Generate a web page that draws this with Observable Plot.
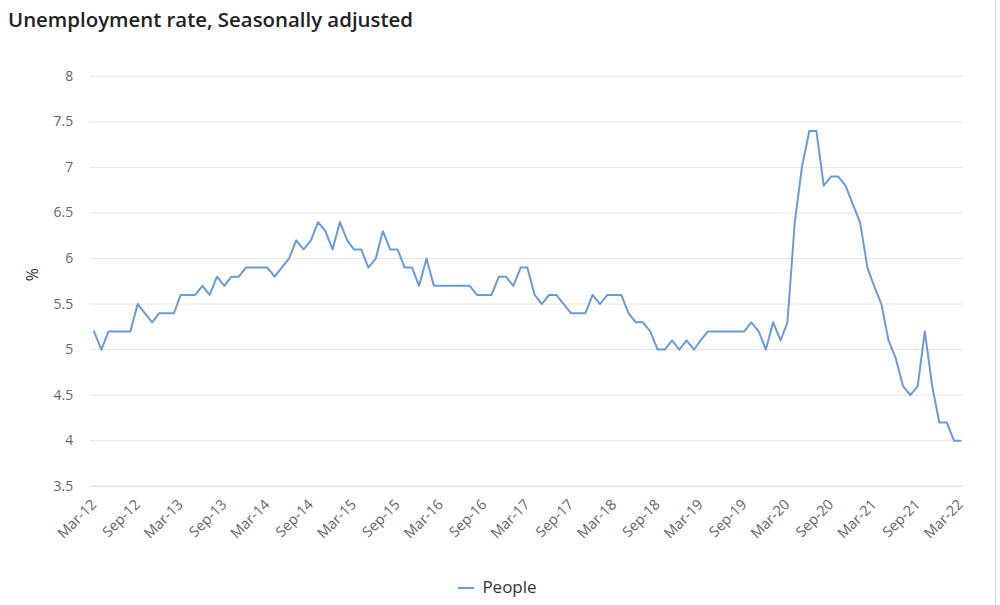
<!DOCTYPE html>
<html>
<head>
<meta charset="utf-8">
<script src="https://cdn.jsdelivr.net/npm/d3@7"></script>
<script src="https://cdn.jsdelivr.net/npm/@observablehq/plot@0.6"></script>
<style>
  html, body { margin: 0; padding: 0; background: #fff; }
  #wrap { position: relative; width: 995px; height: 605px; border-right: 1px solid #d8d8d8; font-family: "Open Sans", sans-serif; }
  #title { position: absolute; left: 8px; top: 5px; font-size: 20.4px; font-weight: 600; color: #222; white-space: nowrap; }
  #chart { position: absolute; left: 0; top: 40px; }
  #legend { position: absolute; left: 0; width: 995px; top: 575px; text-align: center; font-size: 17px; color: #333; }
  #legend svg { vertical-align: middle; margin-right: 8px; }
  #chart svg text { font-family: "Open Sans", sans-serif; }
  #chart svg g[aria-label="x-axis tick label"] { font-size: 14.5px; }
  #chart svg g[aria-label="y-axis tick label"] { font-size: 14px; }
</style>
</head>
<body>
<div id="wrap">
  <div id="title">Unemployment rate, Seasonally adjusted</div>
  <div id="chart"></div>
  <div id="legend"><svg width="16" height="10"><line x1="0" x2="16" y1="5" y2="5" stroke="#6b9bd2" stroke-width="2"/></svg><span>People</span></div>
</div>
<script>
const seriesName = "People";
const startMonth = "2012-03";
const values = [
  5.2, 5.0, 5.2, 5.2, 5.2, 5.2, 5.5, 5.4, 5.3, 5.4, 5.4, 5.4,
  5.6, 5.6, 5.6, 5.7, 5.6, 5.8, 5.7, 5.8, 5.8, 5.9, 5.9, 5.9,
  5.9, 5.8, 5.9, 6.0, 6.2, 6.1, 6.2, 6.4, 6.3, 6.1, 6.4, 6.2,
  6.1, 6.1, 5.9, 6.0, 6.3, 6.1, 6.1, 5.9, 5.9, 5.7, 6.0, 5.7,
  5.7, 5.7, 5.7, 5.7, 5.7, 5.6, 5.6, 5.6, 5.8, 5.8, 5.7, 5.9,
  5.9, 5.6, 5.5, 5.6, 5.6, 5.5, 5.4, 5.4, 5.4, 5.6, 5.5, 5.6,
  5.6, 5.6, 5.4, 5.3, 5.3, 5.2, 5.0, 5.0, 5.1, 5.0, 5.1, 5.0,
  5.1, 5.2, 5.2, 5.2, 5.2, 5.2, 5.2, 5.3, 5.2, 5.0, 5.3, 5.1,
  5.3, 6.4, 7.0, 7.4, 7.4, 6.8, 6.9, 6.9, 6.8, 6.6, 6.4, 5.9,
  5.7, 5.5, 5.1, 4.9, 4.6, 4.5, 4.6, 5.2, 4.6, 4.2, 4.2, 4.0,
  4.0
];
const tickLabels = ["Mar-12","Sep-12","Mar-13","Sep-13","Mar-14","Sep-14","Mar-15","Sep-15",
  "Mar-16","Sep-16","Mar-17","Sep-17","Mar-18","Sep-18","Mar-19","Sep-19","Mar-20","Sep-20",
  "Mar-21","Sep-21","Mar-22"];
const yTicks = [3.5, 4, 4.5, 5, 5.5, 6, 6.5, 7, 7.5, 8];

const start = d3.utcParse("%Y-%m")(startMonth);
const data = values.map((v, i) => ({date: d3.utcMonth.offset(start, i), value: v, series: seriesName}));
const fmt = d3.utcFormat("%b-%y");
const xTicks = data.filter(d => tickLabels.includes(fmt(d.date))).map(d => d.date);

const chart = Plot.plot({
  width: 1000,
  height: 520,
  marginLeft: 90,
  marginRight: 32,
  marginTop: 36,
  marginBottom: 72,
  style: {fontFamily: "'Open Sans', sans-serif", fontSize: "14px", color: "#666", background: "transparent"},
  x: {type: "utc", domain: [data[0].date, data[data.length - 1].date], insetLeft: 4, insetRight: 3},
  y: {domain: [yTicks[0], yTicks[yTicks.length - 1]]},
  marks: [
    Plot.ruleY(yTicks.slice(1), {stroke: "#e6e6e6", strokeOpacity: 1}),
    Plot.ruleY([yTicks[0]], {stroke: "#ccd6eb", strokeOpacity: 1}),
    Plot.axisY({ticks: yTicks, tickSize: 0, tickPadding: 17, label: null, tickFormat: d => String(d), fill: "#666"}),
    Plot.axisX({ticks: xTicks, tickSize: 0, tickPadding: 16, tickRotate: -45, tickFormat: fmt, label: null, fill: "#666"}),
    Plot.text(["%"], {frameAnchor: "left", dx: -57, rotate: -90, fill: "#333", fontSize: 16}),
    Plot.lineY(data, {x: "date", y: "value", stroke: "#6b9bd2", strokeWidth: 2})
  ]
});
document.getElementById("chart").appendChild(chart);
</script>
</body>
</html>
